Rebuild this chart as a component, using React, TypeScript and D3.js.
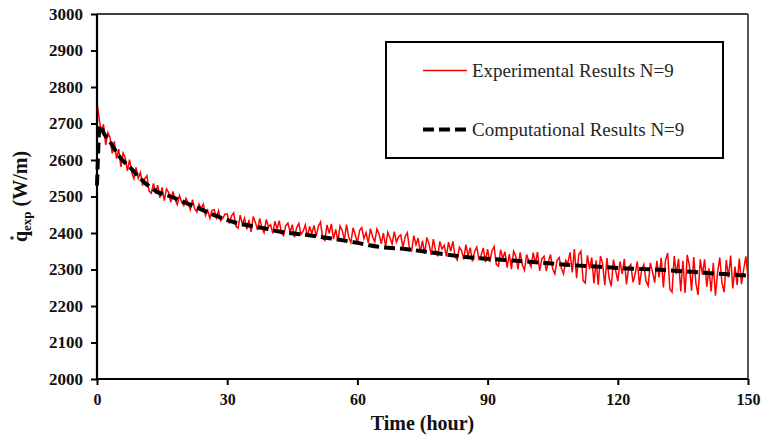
import React from "react";
import * as d3 from "d3";

// x ticks (hour) and y ticks (W/m)
const xTicks = [0, 30, 60, 90, 120, 150];
const yTicks = [2000, 2100, 2200, 2300, 2400, 2500, 2600, 2700, 2800, 2900, 3000];

// experimental results N=9, one reading every half hour from t = 0 to 150
const expStep = 0.5;
const expValues = [
    2760, 2712, 2676, 2698, 2641, 2675, 2662, 2618, 2651, 2604, 2630, 2581, 2619, 2606, 2570, 2601, 2566, 2549, 2580, 2550,
    2566, 2530, 2549, 2557, 2515, 2509, 2536, 2512, 2531, 2496, 2525, 2489, 2521, 2511, 2484, 2514, 2492, 2478, 2503, 2485,
    2475, 2495, 2483, 2464, 2491, 2467, 2457, 2479, 2467, 2479, 2448, 2462, 2440, 2462, 2464, 2441, 2461, 2434, 2441, 2452,
    2452, 2426, 2447, 2455, 2419, 2413, 2449, 2424, 2441, 2410, 2436, 2403, 2445, 2429, 2408, 2440, 2414, 2401, 2437, 2417,
    2423, 2399, 2432, 2411, 2434, 2399, 2393, 2420, 2427, 2402, 2423, 2388, 2415, 2426, 2396, 2405, 2422, 2390, 2418, 2398,
    2421, 2391, 2418, 2430, 2386, 2380, 2422, 2399, 2425, 2383, 2410, 2378, 2419, 2407, 2381, 2423, 2388, 2374, 2414, 2396,
    2373, 2407, 2415, 2385, 2401, 2373, 2412, 2390, 2376, 2411, 2397, 2370, 2400, 2363, 2402, 2387, 2370, 2404, 2375, 2390,
    2395, 2360, 2390, 2401, 2357, 2351, 2393, 2368, 2386, 2346, 2379, 2343, 2388, 2371, 2340, 2383, 2352, 2336, 2377, 2356,
    2366, 2336, 2375, 2350, 2377, 2336, 2326, 2361, 2352, 2328, 2368, 2338, 2360, 2322, 2349, 2362, 2329, 2339, 2359, 2320,
    2356, 2320, 2351, 2363, 2314, 2309, 2354, 2330, 2349, 2305, 2342, 2301, 2350, 2336, 2300, 2347, 2313, 2298, 2341, 2322,
    2307, 2346, 2317, 2348, 2296, 2329, 2336, 2296, 2321, 2341, 2301, 2288, 2325, 2333, 2303, 2288, 2325, 2317, 2347, 2292,
    2356, 2276, 2341, 2350, 2270, 2263, 2339, 2301, 2333, 2262, 2325, 2258, 2337, 2316, 2257, 2331, 2276, 2254, 2327, 2298,
    2268, 2322, 2288, 2329, 2259, 2306, 2314, 2265, 2287, 2322, 2258, 2299, 2314, 2268, 2255, 2318, 2293, 2264, 2324, 2278,
    2332, 2251, 2326, 2345, 2246, 2238, 2337, 2287, 2329, 2240, 2324, 2236, 2340, 2311, 2242, 2334, 2262, 2230, 2328, 2286,
    2328, 2253, 2303, 2240, 2318, 2228, 2293, 2333, 2263, 2238, 2326, 2278, 2338, 2248, 2308, 2258, 2330, 2260, 2300, 2336,
    2278,
];

// computational results N=9
const compTime = [0, 0.2, 0.5, 0.8, 1.5, 3, 5, 8, 11, 14, 17, 20, 23, 27, 32, 38, 42, 48, 54, 60, 65, 71, 78, 86, 94, 101, 108, 115, 122, 130, 140, 150];
const compValues = [2530, 2600, 2680, 2695, 2675, 2650, 2612, 2575, 2538, 2512, 2500, 2485, 2470, 2449, 2428, 2414, 2404, 2395, 2385, 2373, 2362, 2356, 2345, 2333, 2326, 2320, 2313, 2308, 2303, 2299, 2291, 2283];

const legendLabels = ["Experimental Results N=9", "Computational Results N=9"];

export default function App() {
    const ref = React.useRef<SVGSVGElement>(null);

    React.useEffect(() => {
        const svg = d3.select(ref.current);
        svg.selectAll("*").remove();

        const left = 97, right = 748, top = 14, bottom = 379;

        var x = d3.scaleLinear().domain([0, 150]).range([left, right]);
        var y = d3.scaleLinear().domain([2000, 3000]).range([bottom, top]);

        const serif = "Liberation Serif, Times New Roman, serif";

        // frame top / right
        svg.append("line")
            .attr("x1", left).attr("x2", right)
            .attr("y1", top).attr("y2", top)
            .attr("stroke", "#000").attr("stroke-width", 1.5);
        svg.append("line")
            .attr("x1", right).attr("x2", right)
            .attr("y1", top).attr("y2", bottom)
            .attr("stroke", "#555").attr("stroke-width", 2);

        // data lines
        const expData = expValues.map((v, i) => ({ t: i * expStep, v: v }));
        svg.append("path")
            .datum(expData)
            .attr("fill", "none")
            .attr("stroke", "#ff0000")
            .attr("stroke-width", 1.5)
            .attr("d", d3.line<any>().x((d) => x(d.t)).y((d) => y(d.v)));

        const compData = compTime.map((t, i) => ({ t: t, v: compValues[i] }));
        svg.append("path")
            .datum(compData)
            .attr("fill", "none")
            .attr("stroke", "#000")
            .attr("stroke-width", 4)
            .attr("stroke-dasharray", "11,5")
            .attr("d", d3.line<any>().x((d) => x(d.t)).y((d) => y(d.v)).curve(d3.curveMonotoneX));

        // y axis
        var yAxis = svg.append("g")
            .attr("transform", `translate(${left},0)`)
            .call(d3.axisLeft(y).tickValues(yTicks).tickSize(6).tickPadding(8).tickFormat(d3.format("d")));
        yAxis.select(".domain").attr("stroke", "#000").attr("stroke-width", 2.2).attr("d", `M0,${bottom}V${top}`);
        yAxis.selectAll(".tick line").attr("stroke", "#000").attr("stroke-width", 2);
        yAxis.selectAll(".tick text")
            .style("font-family", serif).style("font-size", "17px").style("font-weight", "bold").attr("fill", "#111");

        // x axis
        var xAxis = svg.append("g")
            .attr("transform", `translate(0,${bottom})`)
            .call(d3.axisBottom(x).tickValues(xTicks).tickSize(6).tickPadding(9).tickFormat(d3.format("d")));
        xAxis.select(".domain").attr("stroke", "#000").attr("stroke-width", 2.2).attr("d", `M${left},0H${right}`);
        xAxis.selectAll(".tick line").attr("stroke", "#000").attr("stroke-width", 2);
        xAxis.selectAll(".tick text")
            .style("font-family", serif).style("font-size", "16px").style("font-weight", "bold").attr("fill", "#111");

        // axis titles
        svg.append("text")
            .attr("x", (left + right) / 2)
            .attr("y", 430)
            .attr("text-anchor", "middle")
            .style("font-family", serif).style("font-size", "20px").style("font-weight", "bold").attr("fill", "#111")
            .text("Time (hour)");

        var yTitle = svg.append("text")
            .attr("transform", `translate(27,${(top + bottom) / 2}) rotate(-90)`)
            .attr("text-anchor", "middle")
            .style("font-family", serif).style("font-size", "20px").style("font-weight", "bold").attr("fill", "#111");
        yTitle.append("tspan").text("q");
        yTitle.append("tspan").style("font-size", "13px").attr("dy", 4).text("exp");
        yTitle.append("tspan").attr("dy", -4).text(" (W/m)");
        // dot over q
        svg.append("circle")
            .attr("cx", 12).attr("cy", 238).attr("r", 1.8).attr("fill", "#1f3864");

        // legend
        var legend = svg.append("g");
        legend.append("rect")
            .attr("x", 386).attr("y", 42).attr("width", 337).attr("height", 116)
            .attr("fill", "#fff").attr("stroke", "#000").attr("stroke-width", 2);
        legend.append("line")
            .attr("x1", 423).attr("x2", 467).attr("y1", 70.5).attr("y2", 70.5)
            .attr("stroke", "#ff0000").attr("stroke-width", 1.4);
        legend.append("line")
            .attr("x1", 423).attr("x2", 467).attr("y1", 129.5).attr("y2", 129.5)
            .attr("stroke", "#000").attr("stroke-width", 4).attr("stroke-dasharray", "11,5");
        legendLabels.forEach((label, i) => {
            legend.append("text")
                .attr("x", 472).attr("y", 77 + i * 59)
                .style("font-family", serif).style("font-size", "19px").attr("fill", "#262626")
                .text(label);
        });
    }, []);

    return (
        <svg
            ref={ref}
            width={761}
            height={441}
            style={{ position: "absolute", left: 0, top: 0, background: "#fff" }}
        />
    );
}
